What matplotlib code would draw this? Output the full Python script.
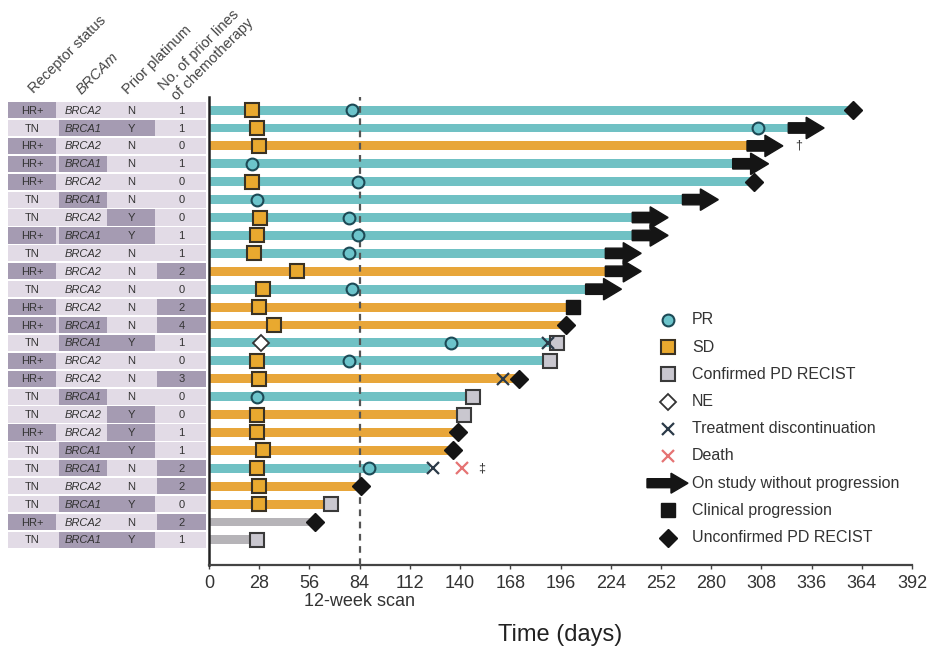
import matplotlib
matplotlib.use('Agg')
import matplotlib.pyplot as plt
from matplotlib.patches import FancyArrow, Rectangle
import matplotlib.transforms as mtransforms

plt.rcParams['font.family'] = ['Liberation Sans', 'DejaVu Sans']

# ---------------- data ----------------
receptor = ['HR+', 'TN', 'HR+', 'HR+', 'HR+', 'TN', 'TN', 'HR+', 'TN', 'HR+', 'TN', 'HR+', 'HR+',
            'TN', 'HR+', 'HR+', 'TN', 'TN', 'HR+', 'TN', 'TN', 'TN', 'TN', 'HR+', 'TN']
brca = ['BRCA2', 'BRCA1', 'BRCA2', 'BRCA1', 'BRCA2', 'BRCA1', 'BRCA2', 'BRCA1', 'BRCA2', 'BRCA2', 'BRCA2',
        'BRCA2', 'BRCA1', 'BRCA1', 'BRCA2', 'BRCA2', 'BRCA1', 'BRCA2', 'BRCA2', 'BRCA1', 'BRCA1', 'BRCA2',
        'BRCA1', 'BRCA2', 'BRCA1']
platinum = ['N', 'Y', 'N', 'N', 'N', 'N', 'Y', 'Y', 'N', 'N', 'N', 'N', 'N', 'Y', 'N', 'N', 'N', 'Y',
            'Y', 'Y', 'N', 'N', 'Y', 'N', 'Y']
n_lines = [1, 1, 0, 1, 0, 0, 0, 1, 1, 2, 0, 2, 4, 1, 0, 3, 0, 0, 1, 1, 2, 2, 0, 2, 1]

bar_end = [359, 323, 300, 292, 304, 264, 236, 236, 221, 221, 210, 203, 199, 194, 190, 173, 147, 142,
           139, 136, 123, 85, 68, 59, 27]
best_resp = ['PR', 'PR', 'SD', 'PR', 'PR', 'PR', 'PR', 'PR', 'PR', 'SD', 'PR', 'SD', 'SD', 'PR', 'PR',
             'SD', 'PR', 'SD', 'SD', 'SD', 'PR', 'SD', 'SD', 'PD', 'PD']

pr_rows = [0, 1, 3, 4, 5, 6, 7, 8, 10, 13, 14, 16, 20]
pr_days = [80, 306, 24, 83, 27, 78, 83, 78, 80, 135, 78, 27, 89]
sd_rows = [0, 1, 2, 4, 6, 7, 8, 9, 10, 11, 12, 14, 15, 17, 18, 19, 20, 21, 22]
sd_days = [24, 27, 28, 24, 28.5, 27, 25, 49, 30, 28, 36, 27, 28, 27, 27, 30, 27, 28, 28]
cpd_rows = [13, 14, 16, 17, 22, 24]
cpd_days = [194, 190, 147, 142, 68, 27]
ne_rows = [13]
ne_days = [29]
disc_rows = [13, 15, 20]
disc_days = [189, 164, 125]
death_rows = [20]
death_days = [141]
ongoing_rows = [1, 2, 3, 5, 6, 7, 8, 9, 10]
clin_rows = [11]
clin_days = [203]
upd_rows = [0, 4, 12, 15, 18, 19, 21, 23]
upd_days = [359, 304, 199, 173, 139, 136, 85, 59]
note_rows = [2, 20]
note_days = [327, 150]
note_syms = ['\u2020', '\u2021']

xticks = list(range(0, 393, 28))
legend_labels = ['PR', 'SD', 'Confirmed PD RECIST', 'NE', 'Treatment discontinuation', 'Death',
                 'On study without progression', 'Clinical progression', 'Unconfirmed PD RECIST']
headers = ['Receptor status', 'BRCAm', 'Prior platinum', 'No. of prior lines', 'of chemotherapy']

# ---------------- styles ----------------
TEAL = '#70c1c4'
ORANGE = '#e8a63a'
GRAY = '#b6b4b8'
bar_color = {'PR': TEAL, 'SD': ORANGE, 'PD': GRAY}
PR_FC, PR_EC = '#6cc4cb', '#1d4a56'
SD_FC, SD_EC = '#e9a92f', '#3a3224'
CPD_FC, CPD_EC = '#c9c7cf', '#3a3a3a'
DARK = '#151515'
DISC_C = '#2b3a48'
DEATH_C = '#e57373'
CELL_DARK = '#a59bb2'
CELL_LIGHT = '#e2dbe6'
TXT = '#333333'

W, H = 930, 650
fig = plt.figure(figsize=(9.3, 6.5), dpi=100)


def px_axes(l, t, r, b):
    return [l / W, 1 - b / H, (r - l) / W, (b - t) / H]


YLIM = (25.4, -0.73)
n = len(bar_end)
rows = list(range(n))

# ---------------- main swimmer axes ----------------
ax = fig.add_axes(px_axes(209, 97, 912, 565))
ax.set_xlim(0, 392)
ax.set_ylim(*YLIM)

ax.barh(rows, bar_end, height=0.5, left=0, color=[bar_color[b] for b in best_resp], zorder=2)
ax.axvline(84, color='#555555', ls=(0, (3, 2.5)), lw=1.6, zorder=3)

for r in ongoing_rows:
    ax.add_patch(FancyArrow(bar_end[r], r, 20, 0, width=0.58, head_width=1.2, head_length=10,
                            length_includes_head=True, color=DARK, zorder=5))

mk = dict(ls='none', zorder=6)
ax.plot(pr_days, pr_rows, marker='o', ms=8.5, mfc=PR_FC, mec=PR_EC, mew=1.5, **mk)
ax.plot(sd_days, sd_rows, marker='s', ms=10, mfc=SD_FC, mec=SD_EC, mew=1.5, **mk)
ax.plot(cpd_days, cpd_rows, marker='s', ms=10, mfc=CPD_FC, mec=CPD_EC, mew=1.5, **mk)
ax.plot(ne_days, ne_rows, marker='D', ms=8.5, mfc='white', mec='#333333', mew=1.3, **mk)
ax.plot(disc_days, disc_rows, marker='x', ms=9, mec=DISC_C, mew=1.6, **mk)
ax.plot(death_days, death_rows, marker='x', ms=9, mec=DEATH_C, mew=1.6, **mk)
ax.plot(clin_days, clin_rows, marker='s', ms=10, mfc=DARK, mec=DARK, **mk)
ax.plot(upd_days, upd_rows, marker='D', ms=9, mfc=DARK, mec=DARK, **mk)
for d, r, s in zip(note_days, note_rows, note_syms):
    ax.text(d, r, s, fontsize=9, color='#333333', va='center', ha='left', zorder=6)

for s in ['top', 'right']:
    ax.spines[s].set_visible(False)
ax.spines['left'].set_color('#222222')
ax.spines['left'].set_linewidth(1.8)
ax.spines['bottom'].set_color('#444444')
ax.spines['bottom'].set_linewidth(1.6)
ax.set_yticks([])
ax.set_xticks(xticks)
ax.set_xticklabels([str(t) for t in xticks])
ax.tick_params(axis='x', labelsize=13, labelcolor=TXT, length=3, width=1, color='#444444', pad=4)
ax.set_xlabel('Time (days)', fontsize=17, color='#222222', labelpad=23)
trans = mtransforms.blended_transform_factory(ax.transData, ax.transAxes)
ax.text(84, -0.078, '12-week scan', transform=trans, ha='center', va='center', fontsize=13, color=TXT)

# ---------------- table axes ----------------
tab = fig.add_axes(px_axes(0, 97, 209, 565))
tab.set_xlim(0, 209)
tab.set_ylim(*YLIM)
tab.axis('off')
col_left = [8, 59, 107, 157]
col_w = [48, 48, 48, 49]
for r in rows:
    tab.add_patch(Rectangle((8, r - 0.45), 198, 0.9, color=CELL_LIGHT, lw=0))
    vals = [receptor[r], brca[r], platinum[r], str(n_lines[r])]
    dark = [receptor[r] == 'HR+', brca[r] == 'BRCA1', platinum[r] == 'Y', n_lines[r] >= 2]
    for c in range(4):
        if dark[c]:
            tab.add_patch(Rectangle((col_left[c], r - 0.45), col_w[c], 0.9, color=CELL_DARK, lw=0))
        tab.text(col_left[c] + col_w[c] / 2, r + 0.03, vals[c], ha='center', va='center', fontsize=8,
                 color=TXT, style='italic' if c == 1 else 'normal')

# ---------------- overlay: headers & legend ----------------
ov = fig.add_axes([0, 0, 1, 1])
ov.set_xlim(0, W)
ov.set_ylim(H, 0)
ov.axis('off')
ov.patch.set_alpha(0)

head_pos = [(34, 94), (82, 95), (128, 95), (164, 91), (177, 101)]
for (hx, hy), s in zip(head_pos, headers):
    ov.text(hx, hy, s, rotation=45, rotation_mode='anchor', ha='left', va='baseline', fontsize=10.5,
            color='#444444', style='italic' if s == 'BRCAm' else 'normal')

lx, tx, ly0, dy = 668, 692, 320, 27.2
ys = [ly0 + dy * k for k in range(len(legend_labels))]
ov.plot([lx], [ys[0]], marker='o', ms=8.5, mfc=PR_FC, mec=PR_EC, mew=1.5)
ov.plot([lx], [ys[1]], marker='s', ms=10, mfc=SD_FC, mec=SD_EC, mew=1.5)
ov.plot([lx], [ys[2]], marker='s', ms=10, mfc=CPD_FC, mec=CPD_EC, mew=1.5)
ov.plot([lx], [ys[3]], marker='D', ms=8.5, mfc='white', mec='#333333', mew=1.3)
ov.plot([lx], [ys[4]], marker='x', ms=9, mec=DISC_C, mew=1.6)
ov.plot([lx], [ys[5]], marker='x', ms=9, mec=DEATH_C, mew=1.6)
ov.add_patch(FancyArrow(647, ys[6], 41, 0, width=9, head_width=20, head_length=17,
                        length_includes_head=True, color=DARK))
ov.plot([lx], [ys[7]], marker='s', ms=10, mfc=DARK, mec=DARK)
ov.plot([lx], [ys[8]], marker='D', ms=9, mfc=DARK, mec=DARK)
for y, s in zip(ys, legend_labels):
    ov.text(tx, y, s, fontsize=11.5, va='center', ha='left', color='#333333')

fig.savefig('out.png', dpi=100, facecolor='white')
